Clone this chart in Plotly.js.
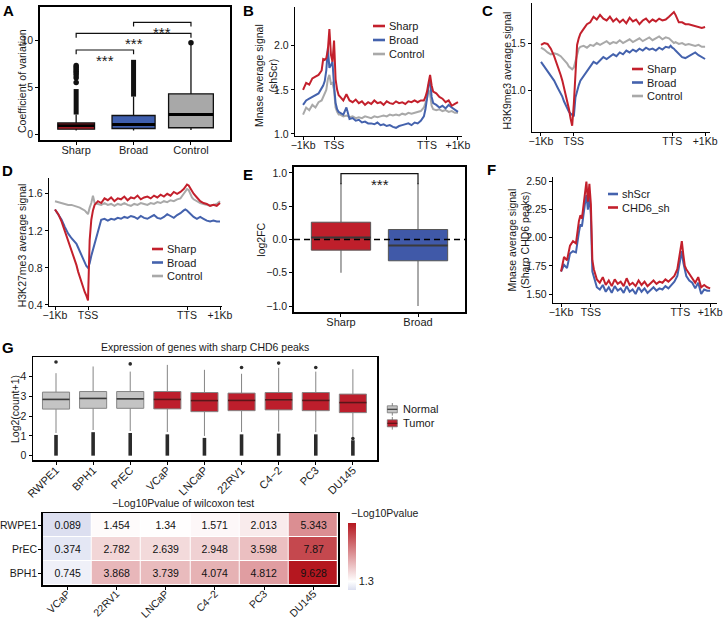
<!DOCTYPE html>
<html><head><meta charset="utf-8">
<script src="https://cdn.plot.ly/plotly-3.0.1.min.js"></script>
<style>html,body{margin:0;padding:0;background:#fff}#chart{width:726px;height:620px}</style>
</head><body><div id="chart"></div>
<script>
// ================= DATA =================
// Panel A
const aCats = ['Sharp','Broad','Control'];
const aQ1 = [0.55, 0.62, 0.70];
const aMed = [0.92, 1.05, 2.10];
const aQ3 = [1.20, 2.00, 4.30];
const aLow = [0.40, 0.42, 0.45];
const aHigh = [2.10, 4.00, 9.50];
const aOutColLo = [2.10, 4.00, null];
const aOutColHi = [4.80, 7.90, null];
const aOutliers = [[5.5, 6.0, 6.3, 6.5, 6.7, 6.9, 7.1, 7.3], [], [9.7]];

// Profiles (B, C, D, F) : bins from -1Kb (0) .. TSS (10) .. TTS (40) .. +1Kb (50)
const profX = [0,1,2,3,4,5,6,6.5,7,7.5,8,8.5,9,9.5,10,10.5,11,11.5,12,13,14,15,16,17,18,19,20,21,22,23,24,25,26,27,28,29,30,31,32,33,34,35,36,37,38,39,39.5,40,40.5,41,41.5,42,43,44,45,46,47,48,49,50];
const profTickVals = [0, 10, 40, 50];
const profTickText = ['\u22121Kb','TSS','TTS','+1Kb'];

const bSharp = [1.50,1.58,1.56,1.63,1.65,1.67,1.72,1.85,1.84,1.86,1.95,2.19,1.90,1.82,2.06,1.62,1.50,1.44,1.42,1.38,1.45,1.38,1.36,1.39,1.35,1.37,1.33,1.36,1.34,1.38,1.35,1.36,1.33,1.37,1.35,1.34,1.37,1.35,1.36,1.34,1.37,1.36,1.38,1.36,1.38,1.38,1.42,1.48,1.58,1.67,1.55,1.48,1.46,1.42,1.40,1.36,1.38,1.32,1.34,1.36];
const bBroad = [1.33,1.38,1.40,1.42,1.44,1.46,1.52,1.55,1.60,1.72,1.97,1.75,1.78,1.82,1.55,1.35,1.28,1.25,1.24,1.22,1.30,1.17,1.18,1.15,1.16,1.13,1.14,1.12,1.12,1.11,1.13,1.10,1.11,1.09,1.10,1.08,1.07,1.09,1.10,1.11,1.12,1.10,1.13,1.12,1.15,1.20,1.28,1.40,1.55,1.60,1.42,1.35,1.33,1.30,1.32,1.29,1.33,1.30,1.27,1.25];
const bControl = [1.22,1.30,1.27,1.33,1.30,1.36,1.38,1.42,1.45,1.50,1.62,1.67,1.57,1.58,1.50,1.30,1.25,1.22,1.22,1.20,1.21,1.19,1.20,1.18,1.19,1.18,1.20,1.19,1.18,1.20,1.19,1.20,1.21,1.20,1.22,1.21,1.22,1.21,1.23,1.22,1.24,1.23,1.24,1.25,1.26,1.30,1.35,1.40,1.50,1.45,1.32,1.28,1.27,1.28,1.26,1.27,1.25,1.26,1.24,1.24];

const cSharp = [1.48,1.50,1.49,1.44,1.36,1.27,1.16,1.10,1.03,0.97,0.90,0.80,0.70,0.62,0.85,1.20,1.48,1.55,1.60,1.65,1.70,1.72,1.78,1.75,1.80,1.76,1.74,1.78,1.73,1.76,1.72,1.75,1.71,1.77,1.73,1.75,1.70,1.74,1.76,1.72,1.75,1.73,1.76,1.74,1.75,1.78,1.80,1.82,1.83,1.80,1.76,1.72,1.72,1.70,1.70,1.69,1.68,1.67,1.66,1.67];
const cBroad = [1.30,1.25,1.20,1.15,1.10,1.03,0.97,0.93,0.88,0.84,0.80,0.77,0.75,0.73,0.72,0.92,1.00,1.05,1.10,1.15,1.20,1.25,1.30,1.28,1.32,1.35,1.33,1.36,1.38,1.36,1.40,1.38,1.42,1.40,1.43,1.41,1.44,1.42,1.45,1.43,1.44,1.42,1.45,1.43,1.46,1.45,1.47,1.45,1.44,1.42,1.40,1.38,1.35,1.34,1.36,1.38,1.40,1.37,1.35,1.33];
const cControl = [1.45,1.43,1.40,1.38,1.39,1.38,1.36,1.34,1.33,1.30,1.28,1.25,1.23,1.22,1.24,1.30,1.38,1.44,1.46,1.47,1.45,1.48,1.47,1.50,1.48,1.50,1.52,1.49,1.51,1.50,1.53,1.50,1.52,1.54,1.51,1.53,1.55,1.52,1.54,1.56,1.53,1.55,1.57,1.54,1.56,1.55,1.53,1.52,1.50,1.51,1.50,1.49,1.50,1.48,1.49,1.48,1.47,1.48,1.46,1.46];

const dSharp = [1.43,1.38,1.30,1.20,1.10,1.00,0.90,0.83,0.76,0.70,0.65,0.60,0.54,0.50,0.45,1.10,1.32,1.42,1.48,1.52,1.50,1.55,1.53,1.56,1.52,1.55,1.54,1.57,1.53,1.56,1.55,1.58,1.54,1.56,1.57,1.55,1.58,1.56,1.59,1.57,1.60,1.58,1.62,1.60,1.62,1.65,1.68,1.70,1.69,1.66,1.62,1.60,1.56,1.52,1.50,1.49,1.47,1.48,1.47,1.50];
const dBroad = [1.43,1.38,1.32,1.24,1.17,1.12,1.08,1.06,1.02,0.98,0.94,0.90,0.86,0.82,0.80,0.85,0.93,1.00,1.05,1.20,1.32,1.33,1.31,1.33,1.32,1.34,1.33,1.35,1.34,1.36,1.35,1.33,1.36,1.34,1.33,1.35,1.37,1.34,1.33,1.35,1.38,1.36,1.34,1.37,1.39,1.42,1.43,1.42,1.40,1.38,1.36,1.35,1.33,1.35,1.33,1.31,1.30,1.31,1.30,1.30];
const dControl = [1.52,1.51,1.50,1.49,1.48,1.48,1.47,1.46,1.46,1.45,1.44,1.43,1.42,1.40,1.38,1.45,1.50,1.58,1.50,1.49,1.48,1.50,1.48,1.49,1.47,1.49,1.48,1.50,1.48,1.47,1.49,1.48,1.50,1.49,1.48,1.50,1.49,1.51,1.50,1.52,1.51,1.53,1.52,1.54,1.55,1.60,1.63,1.65,1.64,1.60,1.56,1.54,1.52,1.50,1.49,1.48,1.47,1.48,1.49,1.52];

const fShScr = [1.70,1.76,1.73,1.86,1.88,1.87,2.05,2.12,2.10,2.22,2.30,2.38,2.25,2.38,2.20,1.70,1.65,1.60,1.56,1.54,1.58,1.52,1.56,1.51,1.57,1.53,1.55,1.51,1.57,1.52,1.54,1.50,1.56,1.52,1.55,1.51,1.54,1.56,1.53,1.55,1.54,1.57,1.55,1.58,1.61,1.66,1.74,1.83,1.88,1.78,1.70,1.66,1.62,1.60,1.55,1.60,1.50,1.54,1.53,1.53];
const fChd6 = [1.70,1.83,1.80,1.93,1.97,1.95,2.15,2.20,2.17,2.30,2.40,2.50,2.32,2.48,2.30,1.80,1.72,1.68,1.63,1.60,1.65,1.58,1.62,1.57,1.63,1.59,1.61,1.57,1.64,1.58,1.60,1.57,1.62,1.58,1.61,1.57,1.60,1.62,1.59,1.61,1.60,1.63,1.61,1.64,1.66,1.72,1.80,1.90,1.97,1.85,1.75,1.72,1.68,1.64,1.60,1.65,1.56,1.58,1.56,1.55];

// Panel E
const eCats = ['Sharp','Broad'];
const eQ1 = [-0.16, -0.32];
const eMed = [0.03, -0.09];
const eQ3 = [0.26, 0.15];
const eLow = [-0.50, -1.00];
const eHigh = [0.85, 0.85];

// Panel G (boxplot)
const gCats = ['RWPE1','BPH1','PrEC','VCaP','LNCaP','22RV1','C4\u22122','PC3','DU145'];
const gGroup = ['Normal','Normal','Normal','Tumor','Tumor','Tumor','Tumor','Tumor','Tumor'];
const gQ1 = [2.36, 2.40, 2.40, 2.37, 2.23, 2.28, 2.32, 2.28, 2.18];
const gMed = [2.85, 2.90, 2.88, 2.85, 2.79, 2.80, 2.83, 2.80, 2.69];
const gQ3 = [3.22, 3.25, 3.25, 3.25, 3.20, 3.17, 3.20, 3.20, 3.12];
const gLow = [1.15, 1.30, 1.25, 1.20, 1.00, 1.20, 1.22, 1.20, 0.95];
const gHigh = [4.18, 4.52, 4.26, 4.60, 4.35, 4.15, 4.45, 4.26, 4.38];
const gOutLowTop = [1.05, 1.19, 1.15, 1.08, 0.90, 1.08, 1.12, 1.08, 0.78];
const gOutLowMin = [0, 0, 0, 0, 0, 0, 0, 0, 0];
const gOutExtra = [[4.75], [], [4.65], [], [], [4.47], [4.69], [4.47], [0.87]];

// Panel G (heatmap)
const hRows = ['RWPE1','PrEC','BPH1'];
const hCols = ['VCaP','22RV1','LNCaP','C4\u22122','PC3','DU145'];
const hRWPE1 = [0.089, 1.454, 1.34, 1.571, 2.013, 5.343];
const hPrEC  = [0.374, 2.782, 2.639, 2.948, 3.598, 7.87];
const hBPH1  = [0.745, 3.868, 3.739, 4.074, 4.812, 9.628];
const hThreshold = 1.3;

// ================= STYLE / LAYOUT HELPERS =================
const W = 726, H = 620;
const fx = p => p / W, fy = p => 1 - p / H;
const FONT = 'Liberation Sans, Arial, Helvetica, sans-serif';
const TXT = '#1a1a1a';
const RED = '#c3202c', BLUE = '#4462ad', GRAY = '#a9a9a9';
const aStyle = {width: [0.64, 0.75, 0.78], fill: ['#d0202c', '#3f5fae', '#a8a8a8']};
const eStyle = {width: 0.77, fill: ['#bf1f2b', '#4059a8']};
const gStyle = {width: 0.73, fill: {Normal: '#c4c4c4', Tumor: '#bd1e2c'}, med: {Normal: '#3a3a3a', Tumor: '#5a1518'}};

function ax(extra) {
  return Object.assign({showgrid: false, zeroline: false, showline: true, linecolor: '#000', linewidth: 1.2,
    ticks: 'outside', ticklen: 3, tickwidth: 1, tickcolor: '#000',
    tickfont: {family: FONT, size: 10.5, color: TXT}, fixedrange: true}, extra);
}
const xdom = (a, b) => [fx(a), fx(b)];
const ydom = (top, bot) => [fy(bot), fy(top)];

const traces = [];
const shapes = [];
const annotations = [];

function ann(text, x, y, o) {
  annotations.push(Object.assign({text: text, x: fx(x), y: fy(y), xref: 'paper', yref: 'paper', showarrow: false,
    xanchor: 'center', yanchor: 'middle', font: {family: FONT, size: 10.5, color: TXT}}, o || {}));
}

// ---------- Panel A ----------
aCats.forEach((c, i) => {
  traces.push({type: 'box', xaxis: 'x', yaxis: 'y', x: [i], q1: [aQ1[i]], median: [aMed[i]], q3: [aQ3[i]],
    lowerfence: [aLow[i]], upperfence: [aHigh[i]], width: aStyle.width[i], fillcolor: aStyle.fill[i],
    line: {color: '#111', width: 1.3}, whiskerwidth: 0, boxpoints: false, hoverinfo: 'skip'});
  shapes.push({type: 'line', xref: 'x', yref: 'y', x0: i - aStyle.width[i] / 2, x1: i + aStyle.width[i] / 2,
    y0: aMed[i], y1: aMed[i], line: {color: '#000', width: 3}});
});
(function () {
  const xs = [], ys = [], dx = [], dy = [];
  aCats.forEach((c, i) => {
    if (aOutColLo[i] !== null) { xs.push(i, i, null); ys.push(aOutColLo[i], aOutColHi[i], null); }
    aOutliers[i].forEach(v => { dx.push(i); dy.push(v); });
  });
  traces.push({type: 'scatter', mode: 'lines', xaxis: 'x', yaxis: 'y', x: xs, y: ys, line: {color: '#111', width: 5}, hoverinfo: 'skip'});
  traces.push({type: 'scatter', mode: 'markers', xaxis: 'x', yaxis: 'y', x: dx, y: dy, marker: {color: '#111', size: 5.5}, hoverinfo: 'skip'});
})();
const aBrackets = [{a: 0, b: 1, y: 8.94, tip: 0.46}, {a: 0, b: 2, y: 10.7, tip: 0.45}, {a: 1, b: 2, y: 11.88, tip: 0.46}];
aBrackets.forEach(br => {
  shapes.push({type: 'path', xref: 'x', yref: 'y', path: `M ${br.a},${br.y - br.tip} L ${br.a},${br.y} L ${br.b},${br.y} L ${br.b},${br.y - br.tip}`, line: {color: '#111', width: 1.2}});
  annotations.push({text: '***', xref: 'x', yref: 'y', x: (br.a + br.b) / 2, y: br.y, yanchor: 'top', xanchor: 'center', showarrow: false, font: {family: FONT, size: 15, color: TXT}});
});

// ---------- Profile panels ----------
function profile(xa, ya, series) {
  series.forEach(s => traces.push({type: 'scatter', mode: 'lines', xaxis: xa, yaxis: ya, x: profX, y: s.y,
    line: {color: s.c, width: 2}, hoverinfo: 'skip'}));
}
profile('x2', 'y2', [{y: bControl, c: GRAY}, {y: bBroad, c: BLUE}, {y: bSharp, c: RED}]);
profile('x3', 'y3', [{y: cControl, c: GRAY}, {y: cBroad, c: BLUE}, {y: cSharp, c: RED}]);
profile('x4', 'y4', [{y: dControl, c: GRAY}, {y: dBroad, c: BLUE}, {y: dSharp, c: RED}]);
profile('x6', 'y6', [{y: fShScr, c: BLUE}, {y: fChd6, c: RED}]);

function legendItems(x0, x1, items) {
  items.forEach(it => {
    shapes.push({type: 'line', xref: 'paper', yref: 'paper', x0: fx(x0), x1: fx(x1), y0: fy(it.y), y1: fy(it.y), line: {color: it.c, width: 2.6}});
    ann(it.t, x1 + 2, it.y, {xanchor: 'left', font: {family: FONT, size: 11, color: TXT}});
  });
}
legendItems(373, 385, [{t: 'Sharp', c: RED, y: 26}, {t: 'Broad', c: BLUE, y: 40}, {t: 'Control', c: GRAY, y: 54}]);
legendItems(632, 643, [{t: 'Sharp', c: RED, y: 69}, {t: 'Broad', c: BLUE, y: 82.5}, {t: 'Control', c: GRAY, y: 96}]);
legendItems(152, 163, [{t: 'Sharp', c: RED, y: 249}, {t: 'Broad', c: BLUE, y: 262.5}, {t: 'Control', c: GRAY, y: 276}]);
legendItems(608, 618, [{t: 'shScr', c: BLUE, y: 194}, {t: 'CHD6_sh', c: RED, y: 207.5}]);

// ---------- Panel E ----------
eCats.forEach((c, i) => {
  traces.push({type: 'box', xaxis: 'x5', yaxis: 'y5', x: [i], q1: [eQ1[i]], median: [eMed[i]], q3: [eQ3[i]],
    lowerfence: [eLow[i]], upperfence: [eHigh[i]], width: eStyle.width, fillcolor: eStyle.fill[i],
    line: {color: '#555', width: 1}, whiskerwidth: 0, boxpoints: false, hoverinfo: 'skip'});
  shapes.push({type: 'line', xref: 'x5', yref: 'y5', x0: i - eStyle.width / 2, x1: i + eStyle.width / 2,
    y0: eMed[i], y1: eMed[i], line: {color: '#3a3a3a', width: 2}});
});
shapes.push({type: 'line', xref: 'x5 domain', yref: 'y5', x0: 0, x1: 1, y0: 0, y1: 0, line: {color: '#000', width: 1.5, dash: '6px,4px'}});
const eBracket = {a: 0, b: 1, y: 0.99, tip: 0.16};
shapes.push({type: 'path', xref: 'x5', yref: 'y5', path: `M ${eBracket.a},${eBracket.y - eBracket.tip} L ${eBracket.a},${eBracket.y} L ${eBracket.b},${eBracket.y} L ${eBracket.b},${eBracket.y - eBracket.tip}`, line: {color: '#111', width: 1.2}});
annotations.push({text: '***', xref: 'x5', yref: 'y5', x: 0.5, y: eBracket.y, yanchor: 'top', xanchor: 'center', showarrow: false, font: {family: FONT, size: 15, color: TXT}});

// ---------- Panel G boxplot ----------
['Normal', 'Tumor'].forEach(grp => {
  const idx = gCats.map((c, i) => i).filter(i => gGroup[i] === grp);
  traces.push({type: 'box', xaxis: 'x7', yaxis: 'y7', x: idx, q1: idx.map(i => gQ1[i]), median: idx.map(i => gMed[i]),
    q3: idx.map(i => gQ3[i]), lowerfence: idx.map(i => gLow[i]), upperfence: idx.map(i => gHigh[i]),
    width: gStyle.width, fillcolor: gStyle.fill[grp], line: {color: '#858585', width: 1}, whiskerwidth: 0, boxpoints: false, hoverinfo: 'skip'});
  idx.forEach(i => shapes.push({type: 'line', xref: 'x7', yref: 'y7', x0: i - gStyle.width / 2, x1: i + gStyle.width / 2,
    y0: gMed[i], y1: gMed[i], line: {color: gStyle.med[grp], width: 1.6}}));
});
(function () {
  const xs = [], ys = [], dx = [], dy = [];
  gCats.forEach((c, i) => {
    xs.push(i, i, null); ys.push(gOutLowMin[i], gOutLowTop[i], null);
    gOutExtra[i].forEach(v => { dx.push(i); dy.push(v); });
  });
  traces.push({type: 'scatter', mode: 'lines', xaxis: 'x7', yaxis: 'y7', x: xs, y: ys, line: {color: '#2b2b2b', width: 3.6}, hoverinfo: 'skip'});
  traces.push({type: 'scatter', mode: 'markers', xaxis: 'x7', yaxis: 'y7', x: dx, y: dy, marker: {color: '#2b2b2b', size: 3.6}, hoverinfo: 'skip'});
})();
// G legend (box glyphs)
[{t: 'Normal', y: 409.3, f: gStyle.fill.Normal, m: gStyle.med.Normal}, {t: 'Tumor', y: 423.3, f: gStyle.fill.Tumor, m: gStyle.med.Tumor}].forEach(it => {
  shapes.push({type: 'line', xref: 'paper', yref: 'paper', x0: fx(392.3), x1: fx(392.3), y0: fy(it.y - 6.3), y1: fy(it.y + 6.3), line: {color: '#858585', width: 1}});
  shapes.push({type: 'rect', xref: 'paper', yref: 'paper', x0: fx(387.3), x1: fx(397.3), y0: fy(it.y - 3.5), y1: fy(it.y + 3.5), fillcolor: it.f, line: {color: '#777', width: 0.8}});
  shapes.push({type: 'line', xref: 'paper', yref: 'paper', x0: fx(387.3), x1: fx(397.3), y0: fy(it.y), y1: fy(it.y), line: {color: it.m, width: 1.2}});
  ann(it.t, 400.5, it.y, {xanchor: 'left', font: {family: FONT, size: 11, color: TXT}});
});

// ---------- Panel G heatmap ----------
const hZ = [hRWPE1, hPrEC, hBPH1];
const hAll = [].concat(...hZ);
const hMin = Math.min(...hAll), hMax = Math.max(...hAll);
const wpos = (hThreshold - hMin) / (hMax - hMin);
traces.push({type: 'heatmap', xaxis: 'x8', yaxis: 'y8', x: hCols.map((c, i) => i), y: hRows.map((r, i) => i), z: hZ,
  text: hZ.map(r => r.map(v => String(v))), texttemplate: '%{text}', textfont: {family: FONT, size: 10.5, color: '#111'},
  zmin: hMin, zmax: hMax, xgap: 1, ygap: 1,
  colorscale: [[0, '#dcdff0'], [wpos, '#ffffff'], [1, '#b5171f']], hoverinfo: 'skip',
  colorbar: {x: fx(348), xanchor: 'left', xpad: 0, y: fy(590), yanchor: 'bottom', ypad: 0, len: 67, lenmode: 'pixels',
    thickness: 8, thicknessmode: 'pixels', outlinewidth: 0, tickvals: [hThreshold], ticktext: [String(hThreshold)], ticks: '',
    tickfont: {family: FONT, size: 11, color: TXT}}});

// ---------- Axis titles, panel titles, letters ----------
ann('Coefficient of variation', 22, 81, {textangle: -90});
ann('Mnase average signal<br>(shScr)', 266, 76, {textangle: -90});
ann('H3K9me3 average signal', 506.5, 71, {textangle: -90});
ann('H3K27me3 average signal', 22.3, 245, {textangle: -90});
ann('log2FC', 260.7, 240, {textangle: -90});
ann('Mnase average signal<br>(Sharp CHD6 peaks)', 518.5, 240, {textangle: -90});
ann('Log2(count+1)', 15, 409, {textangle: -90});
ann('Expression of genes with sharp CHD6 peaks', 205, 346.7);
ann('\u2212Log10Pvalue of wilcoxon test', 183.3, 502.7);
ann('\u2212Log10Pvalue', 348.5, 512.7, {xanchor: 'left'});
[['A', 1, 0], ['B', 241, 0], ['C', 480, 0], ['D', 0, 160], ['E', 241, 164], ['F', 485, 159], ['G', 0, 337]].forEach(l =>
  ann('<b>' + l[0] + '</b>', l[1], l[2], {xanchor: 'left', yanchor: 'top', font: {family: FONT, size: 15, color: '#000'}}));

// ================= LAYOUT =================
const XS = -4; // pull x tick labels closer to axis
const layout = {
  width: W, height: H, margin: {l: 0, r: 0, t: 0, b: 0}, paper_bgcolor: '#fff', plot_bgcolor: 'rgba(0,0,0,0)',
  showlegend: false, hovermode: false, boxmode: 'overlay', font: {family: FONT, color: TXT},
  xaxis: ax({domain: xdom(40, 230), range: [-0.63, 2.68], tickvals: [0, 1, 2], ticktext: aCats, mirror: true, linewidth: 1.8, anchor: 'y', ticklabelstandoff: XS, tickfont: {family: FONT, size: 11, color: TXT}}),
  yaxis: ax({domain: ydom(7, 140), range: [-0.6, 13.5], tickvals: [0, 5, 10], mirror: true, linewidth: 1.8, anchor: 'x'}),
  xaxis2: ax({domain: xdom(295, 462), range: [-2.6, 51.3], tickvals: profTickVals, ticktext: profTickText, anchor: 'y2', ticklabelstandoff: XS}),
  yaxis2: ax({domain: ydom(7, 136), range: [0.977, 2.44], tickvals: [1, 1.5, 2], tickformat: '.1f', anchor: 'x2'}),
  xaxis3: ax({domain: xdom(532, 710), range: [-2.74, 51.5], tickvals: profTickVals, ticktext: profTickText, anchor: 'y3', ticklabelstandoff: XS}),
  yaxis3: ax({domain: ydom(3, 132), range: [0.553, 1.926], tickvals: [1, 1.5], tickformat: '.1f', anchor: 'x3'}),
  xaxis4: ax({domain: xdom(49, 222), range: [-1.82, 50.6], tickvals: profTickVals, ticktext: profTickText, anchor: 'y4', ticklabelstandoff: XS}),
  yaxis4: ax({domain: ydom(178, 306), range: [0.389, 1.77], tickvals: [0.4, 0.8, 1.2, 1.6], tickformat: '.1f', anchor: 'x4'}),
  xaxis5: ax({domain: xdom(294, 465), range: [-0.61, 1.61], tickvals: [0, 1], ticktext: eCats, mirror: true, linewidth: 1.8, anchor: 'y5', ticklabelstandoff: XS, tickfont: {family: FONT, size: 11, color: TXT}}),
  yaxis5: ax({domain: ydom(167, 312), range: [-1.09, 1.09], tickvals: [-1, -0.5, 0, 0.5, 1], tickformat: '.1f', mirror: true, linewidth: 1.8, anchor: 'x5'}),
  xaxis6: ax({domain: xdom(553, 717), range: [-2.7, 52.3], tickvals: profTickVals, ticktext: profTickText, anchor: 'y6', ticklabelstandoff: XS}),
  yaxis6: ax({domain: ydom(177, 303), range: [1.42, 2.54], tickvals: [1.5, 1.75, 2, 2.25, 2.5], tickformat: '.2f', anchor: 'x6'}),
  xaxis7: ax({domain: xdom(33, 377), range: [-0.62, 8.65], tickvals: gCats.map((c, i) => i), ticktext: gCats, tickangle: -45, mirror: true, linewidth: 1.5, anchor: 'y7', ticklabelstandoff: -5, tickfont: {family: FONT, size: 11, color: TXT}}),
  yaxis7: ax({domain: ydom(357, 460), range: [-0.22, 5.0], tickvals: [0, 1, 2, 3, 4], mirror: true, linewidth: 1.5, anchor: 'x7'}),
  xaxis8: ax({domain: xdom(42.7, 338), range: [-0.5, 5.5], tickvals: hCols.map((c, i) => i), ticktext: hCols, tickangle: -45, mirror: true, linewidth: 1.5, anchor: 'y8', ticklabelstandoff: -6, tickfont: {family: FONT, size: 10.5, color: TXT}}),
  yaxis8: ax({domain: ydom(513, 585), range: [2.5, -0.5], tickvals: hRows.map((r, i) => i), ticktext: hRows, mirror: true, linewidth: 1.5, anchor: 'x8', ticklabelstandoff: -1, tickfont: {family: FONT, size: 10.5, color: TXT}}),
  shapes: shapes, annotations: annotations
};

Plotly.newPlot('chart', traces, layout, {staticPlot: true, displayModeBar: false});
</script>
</body></html>
